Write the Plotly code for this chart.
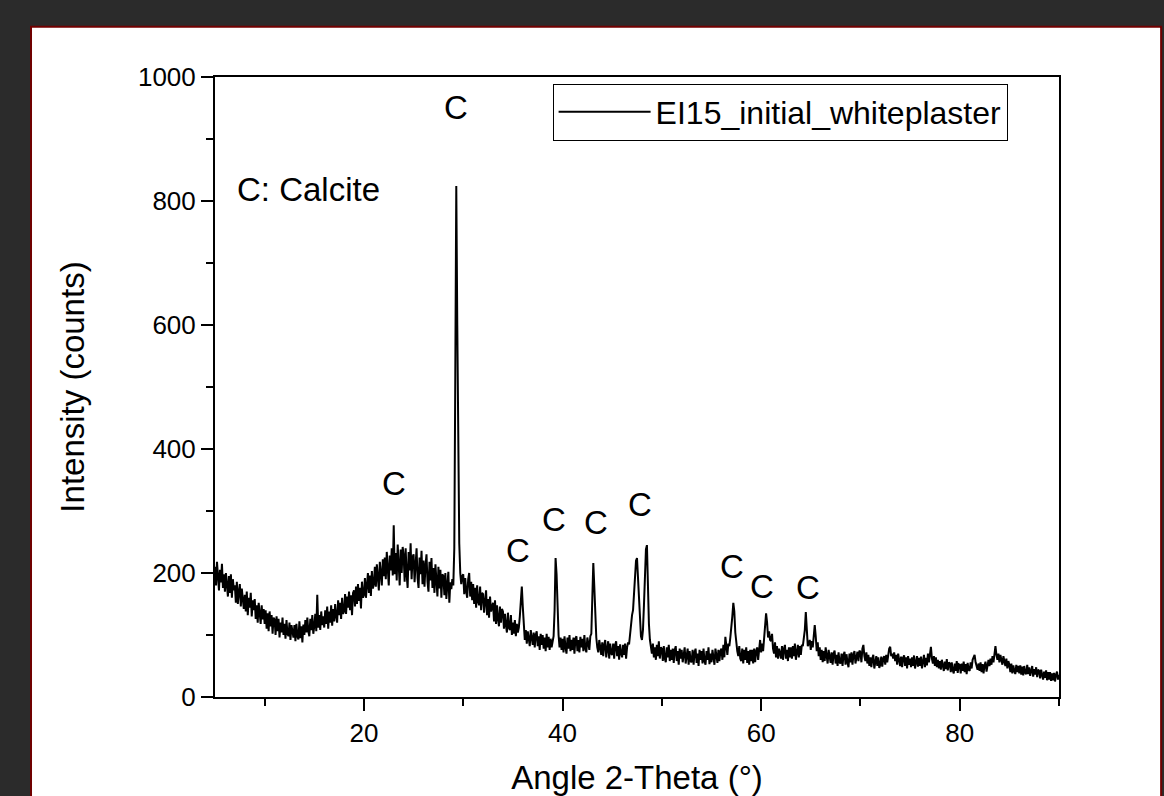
import numpy as np
import plotly.graph_objects as go

# 2-theta scan grid (step 0.1 deg, 5 to 90)
two_theta = np.round(np.arange(5.0, 90.0001, 0.1), 1)

# Intensity (counts), one row per degree (x.0 ... x.9)
rows = [
    [210, 180, 218, 192, 172, 205, 185, 215, 176, 198],  # 5
    [170, 200, 175, 162, 195, 168, 198, 160, 190, 172],  # 6
    [180, 152, 186, 150, 170, 182, 146, 175, 158, 142],  # 7
    [165, 138, 170, 132, 160, 144, 168, 130, 156, 140],  # 8
    [158, 126, 148, 120, 152, 130, 118, 148, 125, 142],  # 9
    [118, 140, 110, 135, 106, 138, 114, 132, 102, 128],  # 10
    [125, 100, 130, 106, 126, 96, 120, 104, 128, 100],   # 11
    [118, 94, 124, 102, 98, 120, 92, 116, 100, 96],      # 12
    [116, 90, 118, 98, 93, 122, 95, 114, 88, 117],       # 13
    [100, 124, 104, 128, 106, 98, 126, 108, 132, 102],   # 14
    [114, 134, 106, 165, 112, 132, 108, 138, 116, 130],  # 15
    [112, 140, 118, 146, 110, 138, 120, 148, 115, 142],  # 16
    [122, 150, 130, 120, 156, 132, 152, 126, 160, 134],  # 17
    [138, 166, 134, 162, 144, 170, 140, 164, 132, 168],  # 18
    [172, 146, 178, 150, 182, 155, 176, 143, 186, 160],  # 19
    [165, 192, 160, 188, 200, 168, 196, 163, 203, 175],  # 20
    [182, 210, 178, 214, 188, 172, 218, 190, 180, 222],  # 21
    [195, 225, 190, 234, 200, 180, 228, 204, 240, 196],  # 22
    [277, 198, 232, 188, 246, 206, 180, 238, 200, 242],  # 23
    [228, 186, 240, 198, 176, 234, 204, 248, 190, 226],  # 24
    [230, 185, 222, 240, 192, 176, 225, 198, 236, 182],  # 25
    [220, 178, 212, 230, 186, 170, 218, 188, 224, 176],  # 26
    [208, 168, 214, 182, 162, 210, 175, 205, 160, 198],  # 27
    [195, 164, 200, 158, 186, 202, 152, 185, 174, 190],  # 28
    [180, 240, 520, 824, 600, 323, 248, 200, 182, 195],  # 29
    [198, 166, 192, 170, 160, 190, 200, 162, 186, 156],  # 30
    [182, 150, 176, 144, 180, 154, 148, 178, 140, 168],  # 31
    [166, 136, 160, 172, 132, 158, 128, 162, 138, 146],  # 32
    [152, 122, 156, 118, 148, 126, 114, 146, 120, 142],  # 33
    [138, 110, 134, 116, 104, 136, 112, 108, 132, 100],  # 34
    [120, 102, 124, 98, 118, 104, 112, 130, 168, 178],   # 35
    [145, 110, 92, 108, 86, 106, 90, 82, 108, 92],       # 36
    [84, 104, 80, 100, 106, 82, 98, 76, 102, 84],        # 37
    [100, 78, 96, 74, 102, 80, 97, 76, 94, 80],          # 38
    [92, 98, 140, 224, 198, 128, 100, 80, 96, 76],       # 39
    [94, 72, 98, 80, 70, 96, 78, 100, 74, 92],           # 40
    [76, 96, 70, 94, 98, 74, 92, 72, 97, 80],            # 41
    [94, 74, 100, 78, 72, 96, 80, 76, 98, 102],          # 42
    [160, 216, 178, 115, 96, 80, 72, 92, 76, 68],        # 43
    [88, 66, 84, 92, 64, 82, 90, 62, 86, 70],            # 44
    [68, 86, 62, 84, 90, 66, 82, 60, 85, 70],            # 45
    [64, 84, 68, 86, 62, 80, 88, 85, 105, 120],          # 46
    [132, 140, 165, 198, 220, 224, 195, 150, 115, 98],   # 47
    [92, 108, 148, 198, 238, 245, 175, 118, 92, 84],     # 48
    [70, 86, 64, 80, 60, 84, 66, 90, 62, 80],            # 49
    [78, 58, 82, 62, 56, 80, 64, 84, 58, 76],            # 50
    [60, 78, 55, 76, 82, 58, 74, 52, 78, 62],            # 51
    [76, 56, 72, 80, 54, 70, 78, 52, 74, 58],            # 52
    [56, 76, 52, 72, 78, 55, 70, 50, 76, 60],            # 53
    [74, 54, 78, 58, 52, 74, 60, 80, 53, 70],            # 54
    [56, 76, 60, 52, 78, 62, 55, 76, 58, 74],            # 55
    [78, 60, 84, 64, 97, 82, 68, 86, 82, 96],            # 56
    [110, 130, 152, 138, 104, 86, 74, 66, 82, 62],       # 57
    [58, 78, 54, 76, 60, 80, 55, 74, 52, 76],            # 58
    [58, 76, 54, 78, 56, 74, 80, 60, 84, 92],            # 59
    [72, 86, 74, 92, 105, 135, 120, 96, 106, 92],        # 60
    [90, 102, 78, 70, 88, 64, 82, 62, 78, 66],           # 61
    [62, 82, 60, 78, 84, 62, 76, 58, 80, 64],            # 62
    [80, 62, 82, 66, 86, 60, 78, 84, 64, 82],            # 63
    [68, 84, 82, 95, 108, 137, 102, 82, 86, 92],         # 64
    [76, 90, 80, 97, 116, 98, 74, 88, 66, 80],           # 65
    [60, 76, 56, 74, 58, 80, 62, 54, 76, 60],            # 66
    [55, 72, 52, 70, 75, 54, 68, 50, 72, 56],            # 67
    [54, 70, 50, 68, 73, 52, 69, 56, 48, 70],            # 68
    [56, 72, 52, 68, 74, 54, 68, 73, 58, 75],            # 69
    [72, 56, 78, 84, 66, 58, 72, 54, 68, 50],            # 70
    [64, 48, 62, 68, 46, 60, 66, 50, 64, 47],            # 71
    [52, 65, 49, 62, 66, 52, 68, 56, 72, 78],            # 72
    [81, 66, 70, 62, 72, 58, 68, 52, 70, 54],            # 73
    [50, 65, 48, 63, 67, 50, 64, 46, 66, 52],            # 74
    [62, 48, 64, 50, 67, 46, 62, 66, 49, 63],            # 75
    [50, 65, 46, 62, 68, 48, 63, 51, 70, 56],            # 76
    [74, 81, 62, 54, 66, 50, 64, 48, 60, 46],            # 77
    [58, 44, 60, 46, 42, 57, 45, 61, 43, 56],            # 78
    [54, 40, 56, 43, 38, 54, 42, 58, 39, 53],            # 79
    [52, 38, 54, 42, 57, 40, 53, 37, 55, 44],            # 80
    [42, 56, 46, 60, 64, 68, 56, 48, 44, 54],            # 81
    [42, 56, 40, 53, 38, 51, 57, 41, 54, 60],            # 82
    [50, 62, 52, 66, 56, 70, 82, 68, 60, 70],            # 83
    [56, 68, 58, 52, 66, 54, 50, 62, 46, 58],            # 84
    [52, 40, 54, 38, 51, 42, 37, 52, 40, 50],            # 85
    [38, 51, 36, 49, 35, 50, 39, 37, 52, 37],            # 86
    [48, 34, 46, 50, 33, 45, 36, 48, 32, 44],            # 87
    [42, 30, 44, 32, 28, 41, 31, 43, 27, 40],            # 88
    [28, 40, 26, 38, 27, 39, 25, 36, 41, 28],            # 89
    [36],                                                # 90.0
]
intensity = [v for r in rows for v in r]

# Peak labels
label_x = [29.3, 23.0, 35.5, 39.1, 43.4, 47.8, 57.1, 60.1, 64.7]
label_y = [951, 345, 237, 287, 282, 311, 210, 179, 176]
label_text = ["C"] * len(label_x)

FONT = "Liberation Sans, Arial, sans-serif"

fig = go.Figure()
fig.add_trace(go.Scatter(
    x=two_theta, y=intensity, mode="lines",
    name="EI15_initial_whiteplaster",
    line=dict(color="black", width=2),
))

for lx, ly, lt in zip(label_x, label_y, label_text):
    fig.add_annotation(x=lx, y=ly, text=lt, showarrow=False,
                       font=dict(family=FONT, size=33, color="black"))
fig.add_annotation(x=7.0, y=818, text="C: Calcite", showarrow=False,
                   xanchor="left", font=dict(family=FONT, size=33, color="black"))

# white panel with dark red border
fig.add_shape(type="rect", xref="paper", yref="paper",
              x0=-0.218, x1=1.121, y0=-0.25, y1=1.081,
              fillcolor="white", line=dict(color="#700000", width=2), layer="below")

axis_common = dict(
    showline=True, linecolor="black", linewidth=2, mirror=True,
    ticks="outside", ticklen=12, tickwidth=2, tickcolor="black",
    showgrid=False, zeroline=False, automargin=False,
    tickfont=dict(family=FONT, size=26, color="black"),
)
fig.update_xaxes(
    range=[5, 90], dtick=20, tick0=0,
    minor=dict(dtick=10, tick0=0, ticks="outside", ticklen=7, tickwidth=2, tickcolor="black"),
    title=dict(text="Angle 2-Theta (°)", font=dict(family=FONT, size=33, color="black"), standoff=32),
    **axis_common,
)
fig.update_yaxes(
    range=[0, 1000], dtick=200, tick0=0,
    minor=dict(dtick=100, tick0=0, ticks="outside", ticklen=7, tickwidth=2, tickcolor="black"),
    title=dict(text="Intensity (counts)", font=dict(family=FONT, size=33, color="black"), standoff=43),
    **axis_common,
)

fig.update_layout(
    width=1164, height=796,
    margin=dict(l=215, r=105, t=77, b=99),
    paper_bgcolor="#2b2b2b", plot_bgcolor="white",
    showlegend=True,
    legend=dict(x=0.40, y=0.9435, xanchor="left", yanchor="middle",
                bgcolor="white", bordercolor="black", borderwidth=1,
                font=dict(family=FONT, size=32, color="black"),
                itemwidth=92),
)

fig.write_html("out.html", config={"displayModeBar": False},
               post_script="document.body.style.margin='0';document.body.style.overflow='hidden';")
